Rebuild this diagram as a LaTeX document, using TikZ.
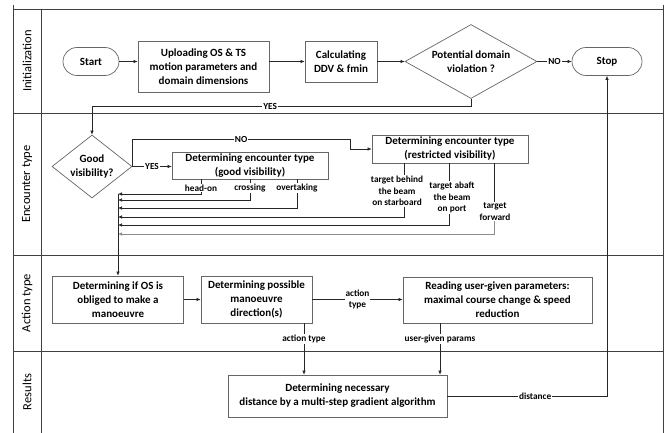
\documentclass[tikz,border=0pt]{standalone}
\usepackage{fontspec}
\setmainfont{Carlito}
\usetikzlibrary{shapes.geometric,shapes.misc,arrows.meta}
\begin{document}
\begin{tikzpicture}[x=1pt,y=-1pt,
  nodefont/.style={font=\bfseries\fontsize{11}{14}\selectfont},
  box/.style={draw=black!60, fill=white, align=center, inner sep=0pt, line width=0.7pt, nodefont},
  term/.style={draw=black!60, rounded rectangle, align=center, inner sep=0pt, line width=0.7pt, nodefont},
  dia/.style={draw=black!60, diamond, inner sep=0pt, line width=0.7pt},
  txt/.style={align=center, inner sep=0pt, nodefont},
  lbl/.style={font=\bfseries\fontsize{9.3}{11.5}\selectfont, fill=white, inner sep=1pt, align=center},
  lane/.style={font=\fontsize{12.5}{14}\selectfont, rotate=90},
  arr/.style={-{Latex[length=4pt,width=3.5pt]}, line width=0.6pt, draw=black!85},
  ln/.style={line width=0.6pt, draw=black!85},
  frame/.style={line width=0.8pt, draw=black!75}
]
\useasboundingbox (0,0) rectangle (667,433);

% swimlane frame
\draw[frame] (13,5) -- (13,433);
\draw[frame] (663,5) -- (663,433);
\draw[frame] (41,9) -- (41,433);
\draw[frame] (13,9) -- (663,9);
\draw[frame] (13,113) -- (663,113);
\draw[frame] (13,255) -- (663,255);
\draw[frame] (13,351) -- (663,351);

\node[lane] (l1) at (27,61) {Initialization};
\node[lane] (l2) at (27,184) {Encounter type};
\node[lane] (l3) at (27,303) {Action type};
\node[lane] (l4) at (27,392) {Results};

% Initialization
\node[term, minimum width=56pt, minimum height=28pt] (start) at (91,61.5) {Start};
\node[box, minimum width=131pt, minimum height=51pt] (up) at (203.5,66.5) {Uploading OS \& TS\\motion parameters and\\domain dimensions};
\node[box, minimum width=72pt, minimum height=41pt] (calc) at (341,61.5) {Calculating\\DDV \& fmin};
\node[dia, minimum width=132pt, minimum height=74pt] (pdv) at (471,61.5) {};
\node[txt] (pdvt) at (pdv) {Potential domain\\violation ?};
\node[term, minimum width=70pt, minimum height=28pt] (stop) at (607,61.5) {Stop};

\draw[arr] (start.east) -- (up.west |- start.east);
\draw[arr] (up.east |- start.east) -- (calc.west |- start.east);
\draw[arr] (calc.east) -- (pdv.west);
\draw[arr] (pdv.east) -- node[lbl]{NO} (stop.west);

% Encounter type
\node[dia, minimum width=80pt, minimum height=63pt] (gv) at (92,166.5) {};
\node[txt] (gvt) at (gv) {Good\\visibility?};
\node[box, minimum width=156pt, minimum height=27pt] (good) at (250,165.5) {Determining encounter type\\(good visibility)};
\node[box, minimum width=156pt, minimum height=28pt] (restr) at (450,149) {Determining encounter type\\(restricted visibility)};

\coordinate (yc) at (92,106);
\draw[arr] (pdv.south) -- (pdv.south |- yc) -- node[lbl,pos=0.53]{YES} (yc) -- (gv.north);
\draw[arr] (gv.east) -- node[lbl]{YES} (good.west |- gv.east);
\coordinate (nc) at (350,139);
\draw[arr] (gv.east) -- (gv.east |- nc) -- node[lbl]{NO} (nc) -- (nc |- restr.west) -- (restr.west);

\node[lbl] (ho) at (201,188) {head-on};
\node[lbl] (cr) at (250,188) {crossing};
\node[lbl] (ov) at (297,188) {overtaking};
\node[lbl] (tbs) at (397,191) {target behind\\the beam\\on starboard};
\node[lbl] (tap) at (452,197.5) {target abaft\\the beam\\on port};
\node[lbl] (tf) at (495,211.5) {target\\forward};

\coordinate (tbx) at (404,0);
\coordinate (tax) at (449,0);
\coordinate (tfx) at (494,0);

\coordinate (c1) at (118,194);
\coordinate (c2) at (118,200);
\coordinate (c3) at (118,208);
\coordinate (c4) at (118,217);
\coordinate (c5) at (118,225);
\coordinate (c6) at (118,234);

\draw[ln] (good.south -| ho.north) -- (ho.north);
\draw[ln] (good.south -| cr.north) -- (cr.north);
\draw[ln] (good.south -| ov.north) -- (ov.north);
\draw[ln] (restr.south -| tbx) -- (tbs.north -| tbx);
\draw[ln] (restr.south -| tax) -- (tap.north -| tax);
\draw[ln] (restr.south -| tfx) -- (tf.north -| tfx);

\draw[arr] (ho.south) |- (c1);
\draw[arr] (cr.south) |- (c2);
\draw[arr] (ov.south) |- (c3);
\draw[arr] (tbs.south -| tbx) |- (c4);
\draw[arr] (tap.south -| tax) |- (c5);
\draw[arr, draw=black!45] (tf.south -| tfx) |- (c6);

% Action type
\node[box, minimum width=131pt, minimum height=47pt] (obl) at (118,299.5) {Determining if OS is\\obliged to make a\\manoeuvre};
\node[box, minimum width=111pt, minimum height=47pt] (poss) at (256.5,299.5) {Determining possible\\manoeuvre\\direction(s)};
\node[box, minimum width=189pt, minimum height=46pt] (read) at (497.5,300) {Reading user-given parameters:\\maximal course change \& speed\\reduction};

\draw[arr] (c1) -- (obl.north);
\draw[arr] (obl.east) -- (poss.west);
\draw[arr] (poss.east) -- node[lbl]{action\\type} (read.west |- poss.east);

% Results
\node[box, minimum width=219pt, minimum height=42pt] (res) at (337.5,396) {Determining necessary\\distance by a multi-step gradient algorithm};

\coordinate (ax) at (304,0);
\coordinate (ux) at (440,0);
\draw[arr] (poss.south -| ax) -- node[lbl,pos=0.3]{action type} (res.north -| ax);
\draw[arr] (read.south -| ux) -- node[lbl,pos=0.3]{user-given params} (res.north -| ux);
\coordinate (dc) at (607,396);
\draw[arr] (res.east) -- node[lbl,pos=0.55]{distance} (dc) -- (stop.south);
\end{tikzpicture}
\end{document}
